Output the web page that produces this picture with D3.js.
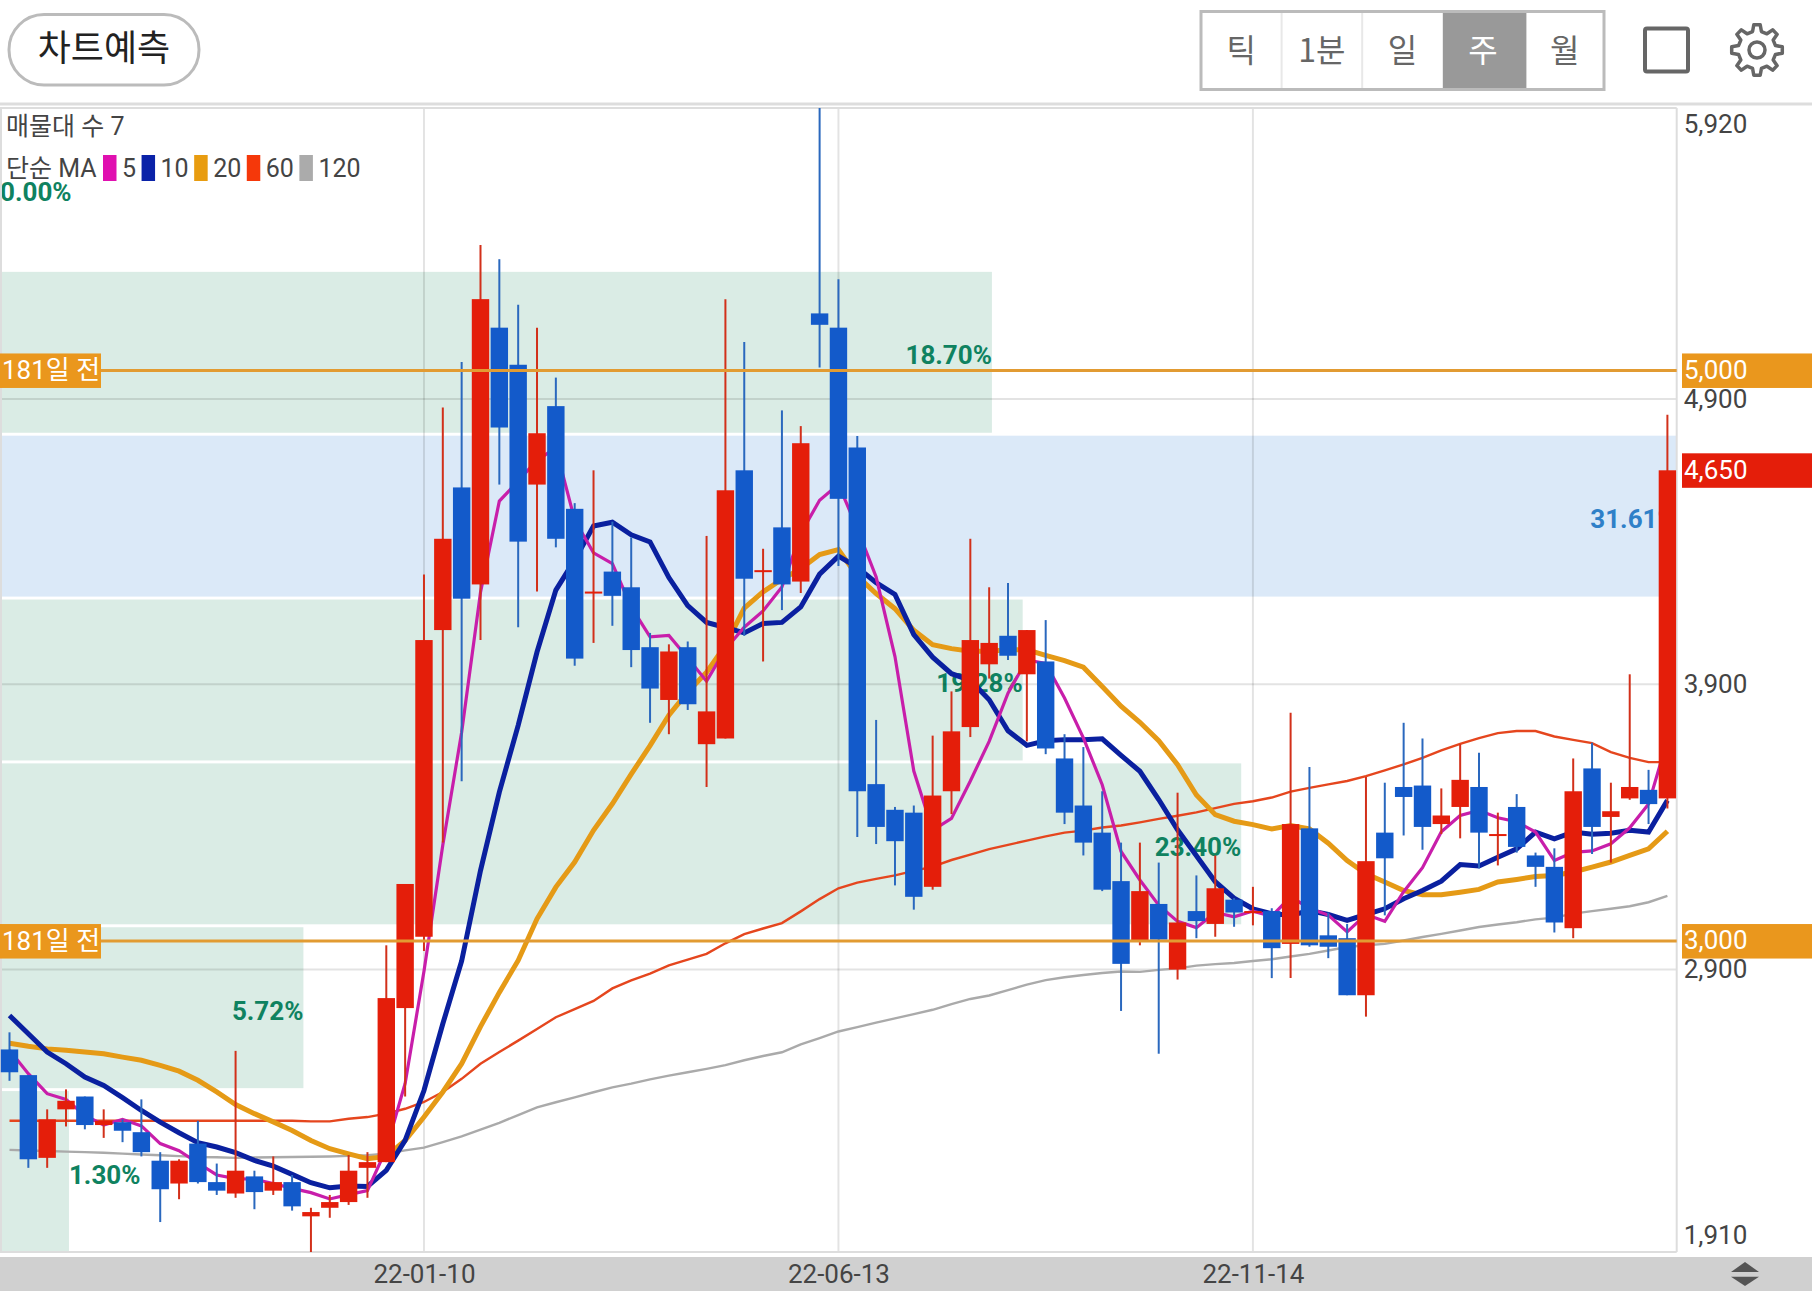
<!DOCTYPE html>
<html lang="ko">
<head>
<meta charset="utf-8">
<title>차트예측</title>
<script src="https://d3js.org/d3.v7.min.js"></script>
<style>
  html, body { margin: 0; padding: 0; background: #fff; }
  svg { display: block; }
  text { font-family: Roboto, "Noto Sans CJK KR", sans-serif; }
  .axis .domain, .axis line { display: none; }
  .axis text { font-size: 26px; fill: #444; font-family: Roboto, "Noto Sans CJK KR", sans-serif; }
  .zone-label { font-size: 26px; font-weight: 700; }
  .tab-label { font-size: 32px; font-family: "Noto Sans CJK KR", Roboto, sans-serif; }
</style>
</head>
<body>
<div id="chart"></div>
<script>
// weekly candles
const opens = [2620,2530,2240,2410,2455,2355,2365,2330,2230,2150,2290,2155,2115,2175,2125,2155,2035,2065,2085,2205,
  2225,2765,3015,4090,4590,4250,5150,5020,4600,4875,4515,4220,4295,4240,4030,3845,4030,3690,3710,4650,
  4295,4450,4260,5200,5150,4730,3550,3460,3450,3190,3525,3750,3970,4070,3935,3980,3640,3475,3380,3210,
  3000,3130,2900,3105,3060,3145,3100,3105,2990,3395,3020,3010,2810,3380,3540,3545,3410,3470,3540,3370,
  3470,3300,3260,3045,3605,3435,3500,3530,3500];
const highs = [2680,2530,2410,2480,2455,2410,2375,2445,2260,2235,2370,2220,2615,2195,2245,2180,2065,2110,2250,2260,
  2985,3200,4285,4870,5030,5440,5390,5230,5150,4975,4535,4650,4470,4415,4080,4040,4050,4420,5250,5100,
  4375,4860,4805,5920,5320,4770,3775,3470,3475,3720,3875,4410,4240,4255,4090,4125,3725,3680,3525,3345,
  3345,3275,3520,3230,3300,3150,3190,3115,3800,3610,3100,3060,3575,3555,3765,3710,3535,3690,3660,3450,
  3515,3310,3325,3640,3695,3555,3935,3600,4845];
const lows = [2510,2205,2205,2350,2340,2310,2295,2245,2015,2095,2150,2110,2100,2060,2110,2055,1910,2030,2075,2100,
  2225,2455,2965,3345,3560,4055,4600,4100,4225,4380,3965,4045,4105,3960,3765,3725,3810,3540,3710,4070,
  3980,4160,4220,5010,4315,3365,3340,3195,3110,3180,3445,3715,3920,3985,3700,3655,3410,3300,3175,2755,
  2985,2605,2865,3010,3015,3050,3055,2870,2870,2980,2940,2810,2735,3090,3370,3320,3375,3360,3255,3265,
  3310,3190,3030,3010,3305,3275,3495,3410,3465];
const closes = [2540,2235,2375,2440,2355,2370,2335,2260,2130,2230,2155,2125,2195,2120,2155,2070,2050,2085,2195,2225,
  2800,3200,4055,4410,4200,5250,4800,4400,4780,4410,3990,4225,4210,4020,3885,4015,3830,3805,4580,4270,
  4300,4250,4745,5160,4550,3525,3400,3350,3155,3510,3735,4055,4045,4000,4090,3675,3450,3345,3180,2920,
  3175,3005,3065,3070,3185,3100,3105,2975,3410,2985,2980,2810,3280,3290,3505,3400,3440,3565,3380,3375,
  3330,3260,3065,3525,3400,3455,3540,3480,4650];

// moving averages
const ma5 = [2617,2535,2465,2445,2389,2355,2375,2352,2290,2265,2222,2180,2167,2165,2150,2133,2118,2096,2111,2125,
  2271,2501,2894,3337,3732,4222,4542,4612,4686,4728,4476,4361,4323,4171,4066,4071,3992,3911,4023,4100,
  4157,4241,4429,4545,4601,4446,4276,3997,3596,3388,3430,3561,3700,3869,3985,3973,3852,3712,3548,3314,
  3214,3126,3069,3047,3100,3085,3105,3087,3155,3115,3091,3032,3093,3069,3173,3257,3383,3440,3458,3432,
  3418,3382,3282,3311,3316,3341,3397,3480,3705];
const ma10 = [2739,2675,2611,2570,2523,2494,2451,2406,2365,2328,2293,2278,2258,2231,2211,2182,2153,2135,2141,2140,
  2196,2301,2476,2710,2930,3247,3522,3756,4013,4230,4336,4455,4468,4424,4399,4274,4176,4117,4099,4080,
  4113,4117,4171,4286,4349,4310,4256,4215,4074,3995,3937,3914,3846,3737,3686,3702,3706,3706,3709,3651,
  3595,3496,3390,3299,3208,3150,3113,3096,3090,3107,3093,3072,3093,3113,3148,3177,3210,3268,3263,3294,
  3323,3382,3358,3382,3374,3378,3388,3382,3493];
const ma20 = [2642,2631,2622,2617,2611,2605,2593,2582,2564,2544,2512,2471,2427,2395,2366,2336,2301,2272,2254,2237,
  2245,2301,2383,2471,2570,2700,2820,2932,3078,3189,3277,3388,3481,3585,3685,3792,3873,3942,4036,4167,
  4224,4268,4305,4355,4372,4279,4218,4165,4089,4039,4025,4016,4016,4021,4021,4001,3983,3960,3892,3823,
  3767,3702,3618,3512,3443,3420,3408,3393,3405,3393,3343,3282,3236,3207,3177,3162,3162,3171,3181,3207,
  3216,3226,3230,3242,3259,3277,3300,3323,3385];
const ma60 = [2370,2370,2370,2370,2370,2370,2370,2370,2370,2370,2370,2370,2370,2370,2370,2370,2368,2368,2377,2383,
  2395,2412,2436,2471,2517,2570,2611,2651,2692,2733,2761,2790,2834,2862,2886,2915,2935,2955,2992,3024,
  3044,3063,3104,3147,3185,3205,3218,3230,3246,3261,3284,3303,3322,3337,3352,3367,3380,3387,3398,3405,
  3416,3428,3439,3451,3466,3481,3490,3503,3524,3537,3549,3561,3578,3598,3619,3642,3668,3691,3711,3729,
  3736,3736,3717,3705,3694,3662,3642,3627,3627];
const ma120 = [2268,2266,2264,2262,2260,2258,2255,2252,2249,2246,2243,2242,2240,2241,2242,2243,2244,2245,2247,2249,
  2255,2266,2276,2295,2315,2339,2363,2390,2417,2435,2452,2470,2487,2500,2515,2528,2540,2552,2565,2582,
  2597,2610,2638,2660,2683,2698,2714,2729,2744,2759,2779,2797,2809,2828,2847,2863,2873,2881,2888,2893,
  2892,2899,2904,2914,2919,2923,2930,2936,2946,2955,2967,2979,2985,2990,3002,3014,3025,3037,3049,3058,
  3066,3076,3082,3096,3105,3113,3122,3136,3158];

// volume bands, top to bottom
const bandNames = ['b1','b2','b3','b4','b5','b6','b7'];
const bandPct = [0.00, 18.70, 31.61, 19.28, 23.40, 5.72, 1.30];

const priceTicks = [5920, 4900, 3900, 2900, 1910];
const dateTickIdx = [22, 44, 66];
const dateTickLabels = ['22-01-10', '22-06-13', '22-11-14'];
const tabLabels = ['틱', '1분', '일', '주', '월'];
const maLegend = [
  { label: '5',   color: '#E010B0' },
  { label: '10',  color: '#0A22A8' },
  { label: '20',  color: '#E89C10' },
  { label: '60',  color: '#F5380A' },
  { label: '120', color: '#ABABAB' }
];

const WIDTH = 1812, HEIGHT = 1293;
const PLOT = { left: 0, right: 1676.7, top: 108, bottom: 1252 };

const RED = '#E41E0A', BLUE = '#135ACA', ORANGE = '#EA971D';

const svg = d3.select('#chart').append('svg')
  .attr('width', WIDTH).attr('height', HEIGHT);

const x = d3.scaleLinear().domain([0, closes.length - 1]).range([9.5, 1667.4]);
const y = d3.scaleLinear().domain([1910, 5920]).range([PLOT.bottom, PLOT.top]);
const zoneW = d3.scaleLinear().domain([0, 31.61]).range([0, PLOT.right]);
const band = d3.scaleBand().domain(bandNames).range([PLOT.top, PLOT.bottom]).paddingInner(0.018).paddingOuter(0);

drawHeader();

// volume zones
const zones = svg.append('g');
bandNames.forEach((name, i) => {
  const pct = bandPct[i];
  const isMax = pct === d3.max(bandPct);
  const w = zoneW(pct);
  zones.append('rect')
    .attr('x', 0).attr('y', band(name))
    .attr('width', w).attr('height', band.bandwidth())
    .attr('fill', isMax ? '#DBE9F8' : '#DAECE5');
  // label sits inside the zone only if it fits
  const fits = w > 76;
  zones.append('text')
    .attr('class', 'zone-label')
    .attr('x', w)
    .attr('y', band(name) + band.bandwidth() / 2 + 3)
    .attr('dy', '0.35em')
    .attr('text-anchor', fits ? 'end' : 'start')
    .attr('fill', isMax ? '#2F80C8' : '#0F8260')
    .text(pct.toFixed(2) + '%');
});

// plot frame and grid
const grid = svg.append('g').attr('stroke', 'rgba(0,0,0,0.11)').attr('stroke-width', 2);
priceTicks.slice(1, 4).forEach(p => {
  grid.append('line').attr('x1', 0).attr('x2', PLOT.right).attr('y1', y(p)).attr('y2', y(p));
});
dateTickIdx.forEach(i => {
  grid.append('line').attr('x1', x(i)).attr('x2', x(i)).attr('y1', PLOT.top).attr('y2', PLOT.bottom);
});
const frame = svg.append('g').attr('stroke', '#DDD').attr('stroke-width', 2);
frame.append('line').attr('x1', 0).attr('x2', PLOT.right).attr('y1', PLOT.top).attr('y2', PLOT.top);
frame.append('line').attr('x1', 0).attr('x2', PLOT.right).attr('y1', PLOT.bottom).attr('y2', PLOT.bottom);
frame.append('line').attr('x1', PLOT.right).attr('x2', PLOT.right).attr('y1', PLOT.top).attr('y2', PLOT.bottom);
frame.append('line').attr('x1', 1).attr('x2', 1).attr('y1', PLOT.top).attr('y2', PLOT.bottom);

// moving average lines, under the candles
const line = d3.line().x((d, i) => x(i)).y(d => y(d));
[[ma120, '#AAAAAA', 2.4], [ma60, '#E5461E', 2.4], [ma20, '#E59A16', 5], [ma10, '#0A209F', 5], [ma5, '#C81EAA', 3.2]]
  .forEach(([vals, color, w]) => {
    svg.append('path').datum(vals)
      .attr('d', line)
      .attr('fill', 'none')
      .attr('stroke', color)
      .attr('stroke-width', w);
  });

// candles
const candleW = 17.4;
const candles = svg.append('g');
closes.forEach((c, i) => {
  const up = c >= opens[i];
  candles.append('line')
    .attr('x1', x(i)).attr('x2', x(i))
    .attr('y1', y(highs[i])).attr('y2', y(lows[i]))
    .attr('stroke', up ? '#D2301A' : '#2A68BE')
    .attr('stroke-width', 2);
  const top = y(Math.max(c, opens[i]));
  const bottom = y(Math.min(c, opens[i]));
  candles.append('rect')
    .attr('x', x(i) - candleW / 2).attr('y', top)
    .attr('width', candleW).attr('height', Math.max(2, bottom - top))
    .attr('fill', up ? RED : BLUE);
});

// price lines
[5000, 3000].forEach(p => {
  svg.append('line')
    .attr('x1', 0).attr('x2', PLOT.right)
    .attr('y1', y(p)).attr('y2', y(p))
    .attr('stroke', '#E29B32').attr('stroke-width', 3);
  svg.append('rect').attr('x', 0).attr('y', y(p) - 17).attr('width', 101).attr('height', 34.5).attr('fill', ORANGE);
  svg.append('text')
    .attr('x', 2).attr('y', y(p)).attr('dy', '0.34em')
    .attr('font-size', 26).attr('fill', '#fff')
    .text('181일 전');
  priceTag(p, ORANGE);
});
priceTag(4650, RED);

function priceTag(p, color) {
  svg.append('rect').attr('x', 1682).attr('y', y(p) - 17).attr('width', 130).attr('height', 34.5).attr('fill', color);
  svg.append('text')
    .attr('x', 1684).attr('y', y(p)).attr('dy', '0.32em')
    .attr('font-size', 26).attr('fill', '#fff')
    .text(d3.format(',')(p));
}

// right axis
const yAxis = svg.append('g').attr('class', 'axis')
  .attr('transform', `translate(${PLOT.right},0)`)
  .call(d3.axisRight(y).tickValues(priceTicks).tickSize(0).tickPadding(7).tickFormat(d3.format(',')));
yAxis.selectAll('text')
  .attr('dy', d => d === 5920 ? '0.96em' : d === 1910 ? '-0.32em' : '0.32em');

// bottom bar
svg.append('rect').attr('x', 0).attr('y', 1257).attr('width', WIDTH).attr('height', 34).attr('fill', '#D0D0D0');
const tickLabel = d3.scaleOrdinal().domain(dateTickIdx).range(dateTickLabels);
const xAxis = svg.append('g').attr('class', 'axis')
  .attr('transform', 'translate(0,1257)')
  .call(d3.axisBottom(x).tickValues(dateTickIdx).tickSize(0).tickPadding(0).tickFormat(d => tickLabel(d)));
xAxis.selectAll('text').attr('y', 17).attr('dy', '0.36em');

svg.append('path').attr('d', 'M1745,1262L1759,1272L1731,1272Z').attr('fill', '#555');
svg.append('path').attr('d', 'M1745,1286L1759,1276.7L1731,1276.7Z').attr('fill', '#555');

// top-left notes
svg.append('text').attr('x', 6).attr('y', 135).attr('font-size', 25).attr('fill', '#444').text('매물대 수 7');
svg.append('text').attr('x', 6).attr('y', 177).attr('font-size', 25).attr('fill', '#444').text('단순 MA');
let legendX = 103;
maLegend.forEach(m => {
  svg.append('rect').attr('x', legendX).attr('y', 155).attr('width', 13.5).attr('height', 26).attr('fill', m.color);
  const t = svg.append('text').attr('x', legendX + 19).attr('y', 177).attr('font-size', 25).attr('fill', '#444').text(m.label);
  legendX += 19 + t.node().getComputedTextLength() + 5.5;
});

function drawHeader() {
  // pill button
  svg.append('rect')
    .attr('x', 9).attr('y', 14.5).attr('width', 190).attr('height', 70.5).attr('rx', 35)
    .attr('fill', '#fff').attr('stroke', '#BBB').attr('stroke-width', 3);
  svg.append('text')
    .attr('x', 104).attr('y', 48).attr('dy', '0.36em')
    .attr('text-anchor', 'middle')
    .attr('font-size', 36).attr('fill', '#222')
    .style('font-family', '"Noto Sans CJK KR", sans-serif')
    .text('차트예측');

  // period tabs
  const tabX = d3.scaleBand().domain(tabLabels).range([1201, 1604]);
  svg.append('rect')
    .attr('x', tabX('주')).attr('y', 10).attr('width', tabX.bandwidth() + 3).attr('height', 81)
    .attr('fill', '#999');
  svg.append('rect')
    .attr('x', 1201).attr('y', 11.5).attr('width', 403).attr('height', 78)
    .attr('fill', 'none').attr('stroke', '#BBB').attr('stroke-width', 3);
  ['틱', '1분'].forEach(d => {
    svg.append('line')
      .attr('x1', tabX(d) + tabX.bandwidth()).attr('x2', tabX(d) + tabX.bandwidth())
      .attr('y1', 13).attr('y2', 88)
      .attr('stroke', '#E8E8E8').attr('stroke-width', 2);
  });
  tabLabels.forEach(d => {
    svg.append('text')
      .attr('class', 'tab-label')
      .attr('x', tabX(d) + tabX.bandwidth() / 2 + (d === '월' ? 1 : 0)).attr('y', 50).attr('dy', '0.36em')
      .attr('text-anchor', 'middle')
      .attr('fill', d === '주' ? '#fff' : '#666')
      .text(d);
  });

  // square icon
  svg.append('rect')
    .attr('x', 1645).attr('y', 28.5).attr('width', 43).attr('height', 43).attr('rx', 2)
    .attr('fill', 'none').attr('stroke', '#666').attr('stroke-width', 4);

  // gear icon
  const teeth = 8, cx = 1757, cy = 50;
  const pts = [];
  for (let k = 0; k < teeth; k++) {
    const a = k / teeth * 2 * Math.PI - Math.PI / 2;
    const s = 2 * Math.PI / teeth;
    pts.push([a - s * 0.16, 25.5], [a + s * 0.16, 25.5], [a + s * 0.30, 19], [a + s * 0.70, 19]);
  }
  const gear = d3.lineRadial().angle(d => d[0] + Math.PI / 2).radius(d => d[1]).curve(d3.curveLinearClosed);
  svg.append('path')
    .attr('transform', `translate(${cx},${cy})`)
    .attr('d', gear(pts))
    .attr('fill', 'none').attr('stroke', '#666').attr('stroke-width', 3.5).attr('stroke-linejoin', 'round');
  svg.append('circle')
    .attr('cx', cx).attr('cy', cy).attr('r', 8)
    .attr('fill', 'none').attr('stroke', '#666').attr('stroke-width', 3.5);

  // header rule
  svg.append('rect').attr('x', 0).attr('y', 102.5).attr('width', WIDTH).attr('height', 3).attr('fill', '#DDD');
}
</script>
</body>
</html>
